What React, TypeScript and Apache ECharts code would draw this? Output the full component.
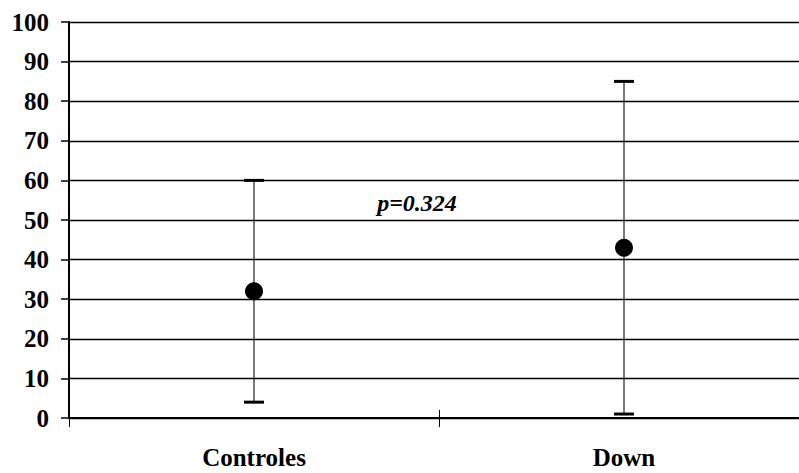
import React, { useEffect, useRef } from "react";
import * as echarts from "echarts";

const categories = ["Controles", "Down"];
const means = [32, 43];
const lowerBounds = [4, 1];
const upperBounds = [60, 85];
const yTicks = { min: 0, max: 100, interval: 10 };
const annotation = "p=0.324";

const FONT = '"Liberation Serif", "Times New Roman", serif';

export default function App() {
  const ref = useRef<HTMLDivElement>(null);
  useEffect(() => {
    document.body.style.margin = "0";
    const chart = echarts.init(ref.current!, null, { renderer: "svg" });
    const errData = categories.map((_, i) => [i, lowerBounds[i], upperBounds[i]]);
    chart.setOption({
      animation: false,
      backgroundColor: "#fff",
      grid: { left: 69, top: 22, bottom: 55, width: 740, containLabel: false, outerBoundsMode: "none" },
      xAxis: [
        {
          type: "category",
          data: categories,
          boundaryGap: true,
          axisLine: { show: true, lineStyle: { color: "#000", width: 2 } },
          axisTick: { show: true, length: 9, alignWithLabel: false, lineStyle: { color: "#000", width: 1 } },
          axisLabel: { color: "#000", fontFamily: FONT, fontWeight: "bold", fontSize: 25, margin: 27 },
          splitLine: { show: false },
        },
        {
          type: "category",
          data: categories,
          position: "bottom",
          boundaryGap: true,
          axisLine: { show: false },
          axisTick: { show: true, inside: true, length: 8, lineStyle: { color: "#000", width: 1 } },
          axisLabel: { show: false },
          splitLine: { show: false },
        },
      ],
      yAxis: {
        type: "value",
        min: yTicks.min,
        max: yTicks.max,
        interval: yTicks.interval,
        axisLine: { show: true, lineStyle: { color: "#000", width: 2 } },
        axisTick: { show: true, length: 8, lineStyle: { color: "#000", width: 1.5 } },
        axisLabel: { color: "#000", fontFamily: FONT, fontWeight: "bold", fontSize: 25, margin: 20 },
        splitLine: { show: true, lineStyle: { color: "#000", width: 1.3 } },
      },
      series: [
        {
          type: "custom",
          xAxisIndex: 0,
          data: errData,
          renderItem: (params: any, api: any) => {
            const x = api.value(0);
            const lo = api.coord([x, api.value(1)]);
            const hi = api.coord([x, api.value(2)]);
            const half = 10;
            return {
              type: "group",
              children: [
                { type: "line", shape: { x1: lo[0], y1: lo[1], x2: hi[0], y2: hi[1] }, style: { stroke: "#222", lineWidth: 1.2 } },
                { type: "line", shape: { x1: hi[0] - half, y1: hi[1], x2: hi[0] + half, y2: hi[1] }, style: { stroke: "#000", lineWidth: 3 } },
                { type: "line", shape: { x1: lo[0] - half, y1: lo[1], x2: lo[0] + half, y2: lo[1] }, style: { stroke: "#000", lineWidth: 3 } },
              ],
            };
          },
          z: 5,
        },
        {
          type: "scatter",
          xAxisIndex: 0,
          data: means,
          symbol: "circle",
          symbolSize: 18,
          itemStyle: { color: "#000", opacity: 1 },
          z: 6,
        },
      ],
      graphic: [
        {
          type: "text",
          x: 417,
          y: 203,
          style: {
            text: annotation,
            fontFamily: FONT,
            fontWeight: "bold",
            fontStyle: "italic",
            fontSize: 24,
            fill: "#000",
            align: "center",
            verticalAlign: "middle",
          },
        },
      ],
    });
    return () => chart.dispose();
  }, []);
  return <div ref={ref} style={{ width: 799, height: 473, overflow: "hidden" }} />;
}
